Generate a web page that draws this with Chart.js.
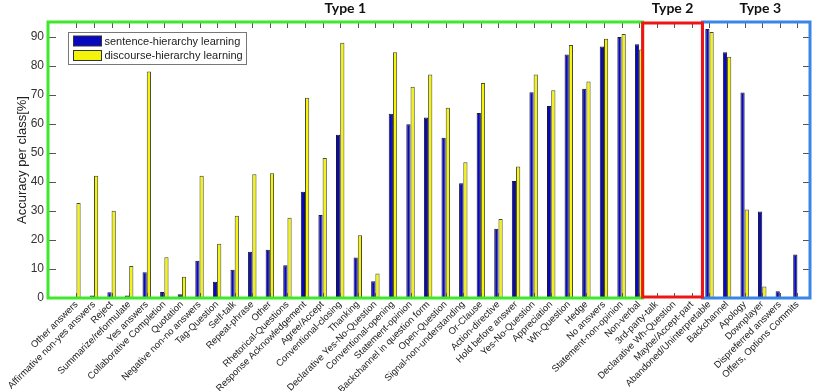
<!DOCTYPE html>
<html>
<head>
<meta charset="utf-8">
<script src="https://cdn.jsdelivr.net/npm/chart.js@4/dist/chart.umd.min.js"></script>
<style>
  html, body { margin: 0; padding: 0; background: #fff; }
  #wrap { width: 817px; height: 391px; }
</style>
</head>
<body>
<div id="wrap"><canvas id="accuracy-chart"></canvas></div>
<script>
'use strict';

var classNames = [
	'Other answers', 'Affirmative non-yes answers', 'Reject', 'Summarize/reformulate', 'Yes answers',
	'Collaborative Completion', 'Quotation', 'Negative non-no answers', 'Tag-Question', 'Self-talk',
	'Repeat-phrase', 'Other', 'Rhetorical-Questions', 'Response Acknowledgement', 'Agree/Accept',
	'Conventional-closing', 'Thanking', 'Declarative Yes-No-Question', 'Conventional-opening', 'Statement-opinion',
	'Backchannel in question form', 'Open-Question', 'Signal-non-understanding', 'Or-Clause', 'Action-directive',
	'Hold before answer', 'Yes-No-Question', 'Appreciation', 'Wh-Question', 'Hedge',
	'No answers', 'Statement-non-opinion', 'Non-verbal', '3rd-party-talk', 'Declarative Wh-Question',
	'Maybe/Accept-part', 'Abandoned/Uninterpretable', 'Backchannel', 'Apology', 'Downplayer',
	'Dispreferred answers', 'Offers, Options Commits'
];

var sentenceAcc = [
	0, 0.9, 2.0, 0.9, 8.9, 2.1, 1.3, 12.8, 5.6, 9.7,
	15.9, 16.6, 11.3, 36.6, 28.6, 56.2, 13.9, 5.8, 63.4, 59.8,
	62.1, 55.2, 39.5, 63.7, 23.8, 40.3, 70.8, 66.1, 83.8, 72.0,
	86.6, 89.8, 87.3, 0, 0, 0, 92.6, 84.6, 70.7, 29.8,
	2.3, 15.0
];

var discourseAcc = [
	32.7, 42.1, 30.0, 11.0, 78.0, 14.0, 7.3, 42.1, 18.7, 28.3,
	42.6, 42.9, 27.6, 68.9, 48.2, 87.9, 21.6, 8.4, 84.6, 72.7,
	76.9, 65.5, 46.7, 74.0, 27.2, 45.3, 76.9, 71.5, 87.1, 74.5,
	89.2, 90.9, 85.5, 0, 0, 0, 91.6, 83.0, 30.5, 4.0,
	0, 0
];

var yTicks = [0, 10, 20, 30, 40, 50, 60, 70, 80, 90];

// class groups, split points on the class axis
var groupNames = ['Type 1', 'Type 2', 'Type 3'];
var groupEdges = [-0.1, 33.2, 36.6, 42.2];
var groupColors = ['#3ee82a', '#f01414', '#3a86e8'];

function toPoints(values) {
	return values.map(function(v, i) { return { x: i + 1, y: v }; });
}

var boxesPlugin = {
	id: 'boxes',
	afterDraw: function(chart) {
		var ctx = chart.ctx;
		var xs = chart.scales.x, ys = chart.scales.y;
		var area = chart.chartArea;
		ctx.save();

		// inward tick marks like matlab
		ctx.strokeStyle = '#555';
		ctx.lineWidth = 1;
		ctx.beginPath();
		for (var i = 0; i < classNames.length; i++) {
			var px = Math.round(xs.getPixelForValue(i + 1)) + 0.5;
			ctx.moveTo(px, area.top); ctx.lineTo(px, area.top + 6);
			ctx.moveTo(px, area.bottom); ctx.lineTo(px, area.bottom - 5);
		}
		yTicks.forEach(function(t) {
			var py = Math.round(ys.getPixelForValue(t)) + 0.5;
			ctx.moveTo(area.left, py); ctx.lineTo(area.left + 8, py);
			ctx.moveTo(area.right, py); ctx.lineTo(area.right - 7, py);
		});
		ctx.stroke();

		// legend
		var lx = 68.5, ly = 32.5;
		ctx.fillStyle = '#fff';
		ctx.fillRect(lx, ly, 178, 32);
		ctx.strokeStyle = '#777';
		ctx.strokeRect(lx, ly, 178, 32);
		chart.data.datasets.forEach(function(ds, k) {
			var sy = ly + 3.5 + k * 14.5;
			ctx.fillStyle = ds.backgroundColor;
			ctx.fillRect(lx + 5, sy, 28, 10);
			ctx.strokeStyle = '#333';
			ctx.strokeRect(lx + 5, sy, 28, 10);
			ctx.fillStyle = '#222';
			ctx.font = '11px "Liberation Sans", Arial, sans-serif';
			ctx.textBaseline = 'middle';
			ctx.textAlign = 'left';
			ctx.fillText(ds.label, lx + 36, sy + 5.5);
		});

		// type boxes, red last so it sits on top
		ctx.lineWidth = 3;
		[0, 2, 1].forEach(function(g) {
			var x0 = xs.getPixelForValue(groupEdges[g]);
			var x1 = xs.getPixelForValue(groupEdges[g + 1]);
			if (g === 0) x0 = area.left;
			if (g === 2) x1 = area.right;
			var inset = g === 1 ? 1 : 0;
			ctx.strokeStyle = groupColors[g];
			ctx.strokeRect(x0, area.top + inset, x1 - x0, area.bottom - area.top - inset * 2);
			ctx.fillStyle = '#111';
			ctx.font = 'bold 14px Lato, "Open Sans", sans-serif';
			ctx.textAlign = 'center';
			ctx.textBaseline = 'alphabetic';
			ctx.fillText(groupNames[g], (x0 + x1) / 2 + (g === 2 ? 4 : 0), 13);
		});
		ctx.restore();
	}
};

var chartConfig = {
	type: 'bar',
	data: {
		datasets: [{
			label: 'sentence-hierarchy learning',
			data: toPoints(sentenceAcc),
			backgroundColor: '#0808c0',
			borderColor: '#1a1a2a',
			borderWidth: 1
		}, {
			label: 'discourse-hierarchy learning',
			data: toPoints(discourseAcc),
			backgroundColor: '#f4f40a',
			borderColor: '#4a4a30',
			borderWidth: 1
		}]
	},
	options: {
		responsive: false,
		animation: false,
		layout: { padding: { top: 22, right: 7, left: 15, bottom: 0 } },
		categoryPercentage: 0.48,
		barPercentage: 1,
		plugins: {
			legend: { display: false },
			tooltip: { enabled: false }
		},
		scales: {
			x: {
				type: 'linear',
				min: -0.1,
				max: 42.2,
				grid: { display: false, drawTicks: false },
				border: { display: false },
				afterBuildTicks: function(scale) {
					scale.ticks = classNames.map(function(c, i) { return { value: i + 1 }; });
				},
				afterFit: function(scale) {
					scale.height = 93;
					scale.paddingLeft = 0;
					scale.paddingRight = 0;
				},
				ticks: {
					autoSkip: false,
					maxRotation: 45,
					minRotation: 45,
					padding: 1,
					color: '#222',
					font: { family: '"Liberation Sans", Arial, sans-serif', size: 9.5 },
					callback: function(v) { return classNames[v - 1]; }
				}
			},
			y: {
				min: 0,
				max: 95,
				grid: { display: false, drawTicks: false },
				border: { display: false },
				afterBuildTicks: function(scale) {
					scale.ticks = yTicks.map(function(t) { return { value: t }; });
				},
				afterFit: function(scale) {
					scale.width = 33;
				},
				title: {
					display: true,
					text: 'Accuracy per class[%]',
					color: '#222',
					padding: 0,
					font: { family: '"Liberation Sans", Arial, sans-serif', size: 13 }
				},
				ticks: {
					padding: 4,
					color: '#333',
					font: { family: '"Liberation Sans", Arial, sans-serif', size: 12 }
				}
			}
		}
	},
	plugins: [boxesPlugin]
};

var canvas = document.getElementById('accuracy-chart');
canvas.width = 817;
canvas.height = 391;
var accuracyChart = new Chart(canvas.getContext('2d'), chartConfig);
</script>
</body>
</html>
